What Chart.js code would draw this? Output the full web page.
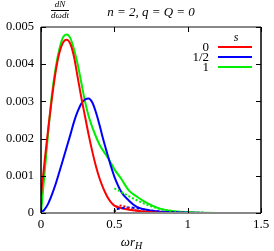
<!DOCTYPE html>
<html>
<head>
<meta charset="utf-8">
<script src="https://cdn.jsdelivr.net/npm/chart.js@4"></script>
<style>
  html, body { margin: 0; padding: 0; background: #fff; }
  #wrap { width: 274px; height: 251px; }
</style>
</head>
<body>
<div id="wrap"><canvas id="chart" width="274" height="251"></canvas></div>
<script>
// data
var omega = [0, 0.025, 0.05, 0.075, 0.1, 0.125, 0.15, 0.175, 0.2, 0.225, 0.25, 0.275, 0.3, 0.325, 0.35, 0.375, 0.4, 0.425, 0.45, 0.475, 0.5, 0.55, 0.6, 0.65, 0.7, 0.8, 0.9, 1.0, 1.2, 1.5];
var spin0 = [0.00048, 0.0014, 0.0023, 0.0031, 0.0038, 0.0043, 0.00458, 0.00466, 0.00455, 0.0042, 0.00365, 0.0031, 0.0026, 0.0021, 0.00165, 0.00125, 0.00092, 0.00066, 0.00045, 0.0003, 0.0002, 0.00013, 0.00009, 0.00006, 0.00004, 0.000015, 0.000005, 0, 0, 0];
var spinHalf = [0, 0.0001, 0.00026, 0.0005, 0.00078, 0.0011, 0.00143, 0.00177, 0.0021, 0.00245, 0.00273, 0.00294, 0.00305, 0.00308, 0.00297, 0.0027, 0.00235, 0.00197, 0.00162, 0.00128, 0.00098, 0.00055, 0.00033, 0.00017, 0.0001, 0.00004, 0.00002, 0.00001, 0, 0];
var spin1 = [0, 0.0011, 0.0022, 0.0032, 0.0039, 0.0044, 0.00472, 0.0048, 0.0047, 0.0044, 0.004, 0.0035, 0.003, 0.0026, 0.0023, 0.00205, 0.00183, 0.00167, 0.00152, 0.00136, 0.00118, 0.0009, 0.0006, 0.00045, 0.00032, 0.00013, 0.00005, 0.00002, 0, 0];

var omegaTail = [0.5, 0.51, 0.52, 0.55, 0.6, 0.65, 0.7, 0.8, 0.9, 1.0, 1.2, 1.5];
var tail0 = [0.00005, 0.00012, 0.00018, 0.0002, 0.00012, 0.00007, 0.00004, 0.00001, 0, 0, 0, 0];
var tailHalf = [0, 0.0001, 0.00011, 0.00013, 0.00015, 0.00013, 0.0001, 0.00004, 0.00002, 0.00001, 0, 0];
var tail1 = [0.00066, 0.00064, 0.00062, 0.00056, 0.00045, 0.00035, 0.00026, 0.00012, 0.00005, 0.00002, 0, 0];

var seriesLabels = ['0', '1/2', '1'];
var seriesColors = ['#ff0000', '#0000ff', '#00ee00'];
var xTicks = [0, 0.5, 1, 1.5];
var yTicks = [0, 0.001, 0.002, 0.003, 0.004, 0.005];
var xTickLabels = ['0', '0.5', '1', '1.5'];
var yTickLabels = ['0', '0.001', '0.002', '0.003', '0.004', '0.005'];

function pts(xs, ys) {
    var out = [];
    for (var i = 0; i < xs.length; i++) out.push({ x: xs[i], y: ys[i] });
    return out;
}

var serif = "'Liberation Serif', 'DejaVu Serif', serif";

// gnuplot-like frame, inward ticks, title, labels and key
var decorations = {
    id: 'decorations',
    afterDraw: function (chart) {
        var ctx = chart.ctx;
        var a = chart.chartArea;
        var xs = chart.scales.x, ys = chart.scales.y;
        ctx.save();
        ctx.lineWidth = 2;
        ctx.strokeStyle = '#888';
        ctx.beginPath();
        ctx.moveTo(a.left, a.top); ctx.lineTo(a.right, a.top);
        ctx.moveTo(a.left, a.bottom); ctx.lineTo(a.right, a.bottom);
        ctx.stroke();
        ctx.strokeStyle = '#000';
        ctx.lineWidth = 1.5;
        ctx.beginPath();
        ctx.moveTo(a.left, a.top); ctx.lineTo(a.left, a.bottom);
        ctx.moveTo(a.right, a.top); ctx.lineTo(a.right, a.bottom);
        ctx.stroke();
        ctx.lineWidth = 1;
        ctx.beginPath();
        xTicks.forEach(function (v) {
            var px = Math.round(xs.getPixelForValue(v)) + 0.5;
            ctx.moveTo(px, a.bottom); ctx.lineTo(px, a.bottom - 5);
            ctx.moveTo(px, a.top); ctx.lineTo(px, a.top + 5);
        });
        yTicks.forEach(function (v) {
            var py = Math.round(ys.getPixelForValue(v)) + 0.5;
            ctx.moveTo(a.left, py); ctx.lineTo(a.left + 5, py);
            ctx.moveTo(a.right, py); ctx.lineTo(a.right - 5, py);
        });
        ctx.stroke();

        ctx.fillStyle = '#000';
        ctx.textAlign = 'center';
        ctx.textBaseline = 'alphabetic';
        ctx.font = 'italic 13px ' + serif;
        ctx.fillText('n = 2, q = Q = 0', 151, 16);

        // y label as a fraction
        ctx.font = 'italic 9px ' + serif;
        ctx.fillText('dN', 60, 7);
        ctx.fillText('dωdt', 60, 18);
        ctx.beginPath();
        ctx.moveTo(51, 10.5); ctx.lineTo(69, 10.5);
        ctx.stroke();

        // x label
        ctx.font = 'italic 13px ' + serif;
        ctx.textAlign = 'right';
        ctx.fillText('ωr', 135, 246);
        ctx.textAlign = 'left';
        ctx.font = 'italic 10px ' + serif;
        ctx.fillText('H', 135, 249);

        // key
        ctx.font = 'italic 12px ' + serif;
        ctx.textAlign = 'center';
        ctx.fillText('s', 236, 41);
        ctx.font = '13px ' + serif;
        ctx.textAlign = 'right';
        for (var i = 0; i < seriesLabels.length; i++) {
            var y = 47 + i * 10;
            ctx.fillText(seriesLabels[i], 209, y + 4);
            ctx.strokeStyle = seriesColors[i];
            ctx.lineWidth = 2;
            ctx.beginPath();
            ctx.moveTo(218, y); ctx.lineTo(252, y);
            ctx.stroke();
        }
        ctx.restore();
    }
};

function solid(data, color) {
    return { data: data, borderColor: color, borderWidth: 2, pointRadius: 0, fill: false, cubicInterpolationMode: 'monotone' };
}
function dotted(data, color, dash) {
    return { data: data, borderColor: color, borderWidth: 2, pointRadius: 0, fill: false, borderDash: dash, cubicInterpolationMode: 'monotone' };
}

new Chart(document.getElementById('chart').getContext('2d'), {
    type: 'line',
    data: {
        datasets: [
            dotted(pts(omegaTail, tail0), seriesColors[0], [2, 2]),
            dotted(pts(omegaTail, tailHalf), seriesColors[1], [3, 2]),
            dotted(pts(omegaTail, tail1), seriesColors[2], [2, 2]),
            solid(pts(omega, spin0), seriesColors[0]),
            solid(pts(omega, spinHalf), seriesColors[1]),
            solid(pts(omega, spin1), seriesColors[2])
        ]
    },
    options: {
        responsive: false,
        animation: false,
        layout: { padding: { top: 27, right: 13, left: 0, bottom: 0 } },
        plugins: { legend: { display: false }, title: { display: false }, tooltip: { enabled: false } },
        scales: {
            x: {
                type: 'linear', min: 0, max: 1.5,
                grid: { display: false, drawTicks: false },
                border: { display: false },
                afterBuildTicks: function (s) { s.ticks = xTicks.map(function (v) { return { value: v }; }); },
                afterFit: function (s) { s.height = 38; },
                ticks: {
                    color: '#000', padding: 4, maxRotation: 0,
                    font: { family: serif, size: 13 },
                    callback: function (v) { return xTickLabels[xTicks.indexOf(v)]; }
                }
            },
            y: {
                min: 0, max: 0.005,
                grid: { display: false, drawTicks: false },
                border: { display: false },
                afterBuildTicks: function (s) { s.ticks = yTicks.map(function (v) { return { value: v }; }); },
                afterFit: function (s) { s.width = 41; },
                ticks: {
                    color: '#000', padding: 7,
                    font: { family: serif, size: 12.5 },
                    callback: function (v) { return yTickLabels[yTicks.indexOf(v)]; }
                }
            }
        }
    },
    plugins: [decorations]
});
</script>
</body>
</html>
